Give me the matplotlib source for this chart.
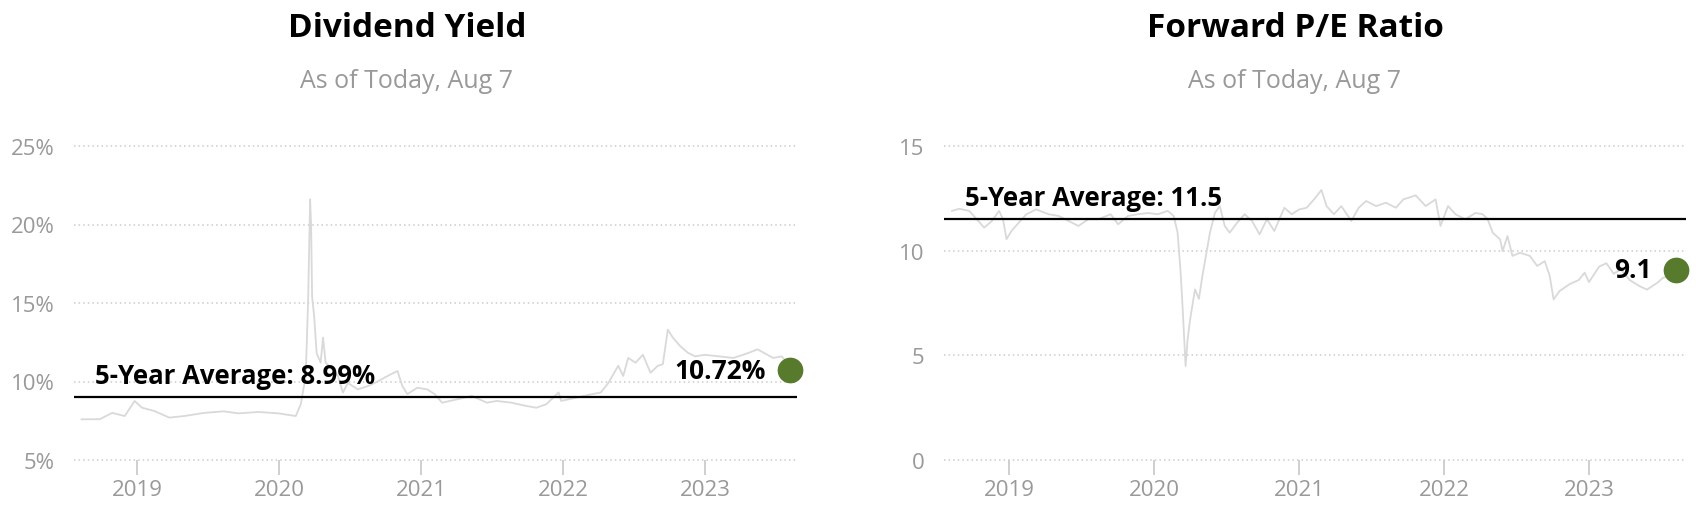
import matplotlib
matplotlib.use("Agg")
import matplotlib.pyplot as plt
from matplotlib.ticker import FuncFormatter
from matplotlib.transforms import offset_copy

plt.rcParams['font.family'] = ['Open Sans', 'DejaVu Sans']

# ---------------- data ----------------
dy_years = [2018.609, 2018.738, 2018.825, 2018.913, 2018.983, 2019.035, 2019.122, 2019.227,
            2019.332, 2019.472, 2019.611, 2019.716, 2019.856, 2019.996, 2020.118, 2020.153,
            2020.188, 2020.205, 2020.219, 2020.226, 2020.233, 2020.247, 2020.265, 2020.293,
            2020.310, 2020.328, 2020.362, 2020.415, 2020.450, 2020.485, 2020.555, 2020.624,
            2020.694, 2020.764, 2020.834, 2020.869, 2020.904, 2020.974, 2021.044, 2021.096,
            2021.148, 2021.253, 2021.358, 2021.463, 2021.533, 2021.638, 2021.742, 2021.812,
            2021.882, 2021.969, 2021.987, 2022.092, 2022.197, 2022.266, 2022.319, 2022.389,
            2022.424, 2022.459, 2022.511, 2022.563, 2022.616, 2022.668, 2022.703, 2022.738,
            2022.773, 2022.825, 2022.878, 2022.930, 2023.000, 2023.100, 2023.200, 2023.300,
            2023.370, 2023.420, 2023.480, 2023.540, 2023.580, 2023.600]
dy_values = [7.59, 7.60, 8.00, 7.80, 8.76, 8.33, 8.12, 7.70,
             7.80, 8.00, 8.10, 7.97, 8.06, 7.97, 7.80, 8.55,
             10.35, 15.2, 21.6, 19.9, 15.4, 14.2, 11.8, 11.2,
             12.8, 11.2, 10.9, 10.35, 9.30, 9.90, 9.50, 9.70,
             10.0, 10.35, 10.67, 9.70, 9.20, 9.60, 9.50, 9.20,
             8.65, 8.86, 9.08, 8.65, 8.76, 8.65, 8.44, 8.33,
             8.55, 9.30, 8.76, 8.97, 9.18, 9.30, 9.90, 11.0,
             10.35, 11.5, 11.2, 11.7, 10.56, 11.0, 11.1, 13.3,
             12.8, 12.26, 11.84, 11.6, 11.7, 11.6, 11.5, 11.8,
             12.05, 11.8, 11.5, 11.6, 11.2, 10.72]
dy_avg = 8.99
dy_current = 10.72

pe_years = [2018.607, 2018.658, 2018.726, 2018.778, 2018.829, 2018.880, 2018.932, 2018.959,
            2018.983, 2019.017, 2019.068, 2019.120, 2019.188, 2019.274, 2019.342, 2019.411,
            2019.479, 2019.547, 2019.616, 2019.701, 2019.753, 2019.821, 2019.889, 2019.958,
            2020.026, 2020.095, 2020.136, 2020.163, 2020.184, 2020.197, 2020.218, 2020.232,
            2020.249, 2020.283, 2020.310, 2020.334, 2020.362, 2020.386, 2020.420, 2020.454,
            2020.488, 2020.522, 2020.574, 2020.625, 2020.676, 2020.728, 2020.779, 2020.830,
            2020.899, 2020.950, 2021.001, 2021.053, 2021.104, 2021.155, 2021.190, 2021.241,
            2021.292, 2021.361, 2021.412, 2021.463, 2021.532, 2021.600, 2021.668, 2021.720,
            2021.805, 2021.874, 2021.942, 2021.976, 2022.028, 2022.079, 2022.147, 2022.216,
            2022.267, 2022.301, 2022.336, 2022.387, 2022.404, 2022.438, 2022.472, 2022.524,
            2022.592, 2022.643, 2022.695, 2022.729, 2022.756, 2022.797, 2022.866, 2022.930,
            2022.970, 2023.000, 2023.070, 2023.120, 2023.170, 2023.220, 2023.280, 2023.350,
            2023.400, 2023.470, 2023.510, 2023.560, 2023.600]
pe_values = [11.9, 12.0, 11.9, 11.5, 11.1, 11.4, 11.9, 11.5,
             10.55, 10.94, 11.34, 11.74, 11.97, 11.74, 11.66, 11.42,
             11.18, 11.5, 11.5, 11.74, 11.26, 11.66, 11.74, 11.8,
             11.74, 11.9, 11.66, 10.86, 8.95, 7.36, 4.49, 5.76,
             6.70, 8.15, 7.70, 8.80, 9.90, 10.86, 11.8, 12.13,
             11.18, 10.86, 11.34, 11.74, 11.42, 10.78, 11.5, 10.94,
             12.05, 11.74, 11.97, 12.05, 12.45, 12.9, 12.13, 11.74,
             12.13, 11.42, 12.05, 12.37, 12.13, 12.29, 12.05, 12.45,
             12.64, 12.13, 12.45, 11.18, 12.13, 11.74, 11.5, 11.8,
             11.74, 11.5, 10.86, 10.54, 9.98, 10.7, 9.75, 9.9,
             9.75, 9.27, 9.5, 8.8, 7.67, 8.07, 8.4, 8.6,
             8.95, 8.5, 9.24, 9.4, 8.9, 9.1, 8.6, 8.3,
             8.14, 8.46, 8.7, 8.8, 9.1]
pe_avg = 11.5
pe_current = 9.1

year_ticks = [2019, 2020, 2021, 2022, 2023]
dy_yticks = [5, 10, 15, 20, 25]
pe_yticks = [0, 5, 10, 15]

titles = ["Dividend Yield", "Forward P/E Ratio"]
subtitle = "As of Today, Aug 7"

# ---------------- style ----------------
W, H = 1696, 510
LINE_C = '#d9d9d9'
GRID_C = '#cccccc'
TICK_C = '#999999'
DOT_C = '#577a2c'

fig = plt.figure(figsize=(W / 100, H / 100), dpi=100)

def px_rect(x0, x1, ytop, ybot):
    return [x0 / W, 1 - ybot / H, (x1 - x0) / W, (ybot - ytop) / H]

ax1 = fig.add_axes(px_rect(74, 797, 147, 461))
ax2 = fig.add_axes(px_rect(944, 1686, 147, 461))

def style(ax, xlim, ylim, yticks, fmt):
    ax.set_xlim(*xlim)
    ax.set_ylim(*ylim)
    for s in ax.spines.values():
        s.set_visible(False)
    ax.set_yticks(yticks)
    ax.yaxis.set_major_formatter(FuncFormatter(fmt))
    ax.set_xticks(year_ticks)
    ax.set_xticklabels([str(y) for y in year_ticks])
    ax.tick_params(axis='y', length=0, pad=14, labelsize=16, labelcolor=TICK_C)
    ax.tick_params(axis='x', direction='out', length=11, width=1.3, color=GRID_C,
                   pad=3, labelsize=16, labelcolor=TICK_C)
    for v in yticks:
        ax.axhline(v, color=GRID_C, lw=1.1, ls=(0, (1, 2)), zorder=0, clip_on=False)

style(ax1, (2018.556, 2023.648), (5, 25), dy_yticks, lambda v, p: f"{v:.0f}%")
style(ax2, (2018.552, 2023.669), (0, 15), pe_yticks, lambda v, p: f"{v:.0f}")

# series
ax1.plot(dy_years, dy_values, color=LINE_C, lw=1.3, zorder=2)
ax2.plot(pe_years, pe_values, color=LINE_C, lw=1.3, zorder=2)

# averages
ax1.axhline(dy_avg, color='black', lw=1.6, zorder=3)
ax2.axhline(pe_avg, color='black', lw=1.6, zorder=3)

for ax, avg, label in [(ax1, dy_avg, f"5-Year Average: {dy_avg:.2f}%"),
                       (ax2, pe_avg, f"5-Year Average: {pe_avg}")]:
    tr = offset_copy(ax.get_yaxis_transform(), fig=fig, x=0, y=14 * 0.72, units='points')
    ax.text(21 / (ax.bbox.width), avg, label, transform=tr, ha='left', va='baseline',
            fontsize=18.5, fontweight='bold', color='black', zorder=5)

# current values
dy_last = dy_years[-1]
pe_last = pe_years[-1]
ax1.plot([dy_last], [dy_current], 'o', ms=17.5, color=DOT_C, zorder=6, clip_on=False)
ax2.plot([pe_last], [pe_current], 'o', ms=17.5, color=DOT_C, zorder=6, clip_on=False)
for ax, x, v, s in [(ax1, dy_last, dy_current, f"{dy_current:.2f}%"),
                    (ax2, pe_last, pe_current, f"{pe_current}")]:
    tr = offset_copy(ax.transData, fig=fig, x=-24 * 0.72, y=0, units='points')
    ax.text(x, v, s, transform=tr, ha='right', va='center', fontsize=19,
            fontweight='bold', color='black', zorder=7)

# titles
for xc, t in [(407, titles[0]), (1295, titles[1])]:
    fig.text(xc / W, 1 - 37 / H, t, ha='center', va='baseline', fontsize=24,
             fontweight='bold', color='black')
    fig.text(xc / W, 1 - 88 / H, subtitle, ha='center', va='baseline', fontsize=18,
             color='#999999')

fig.savefig('out.png', dpi=100)
